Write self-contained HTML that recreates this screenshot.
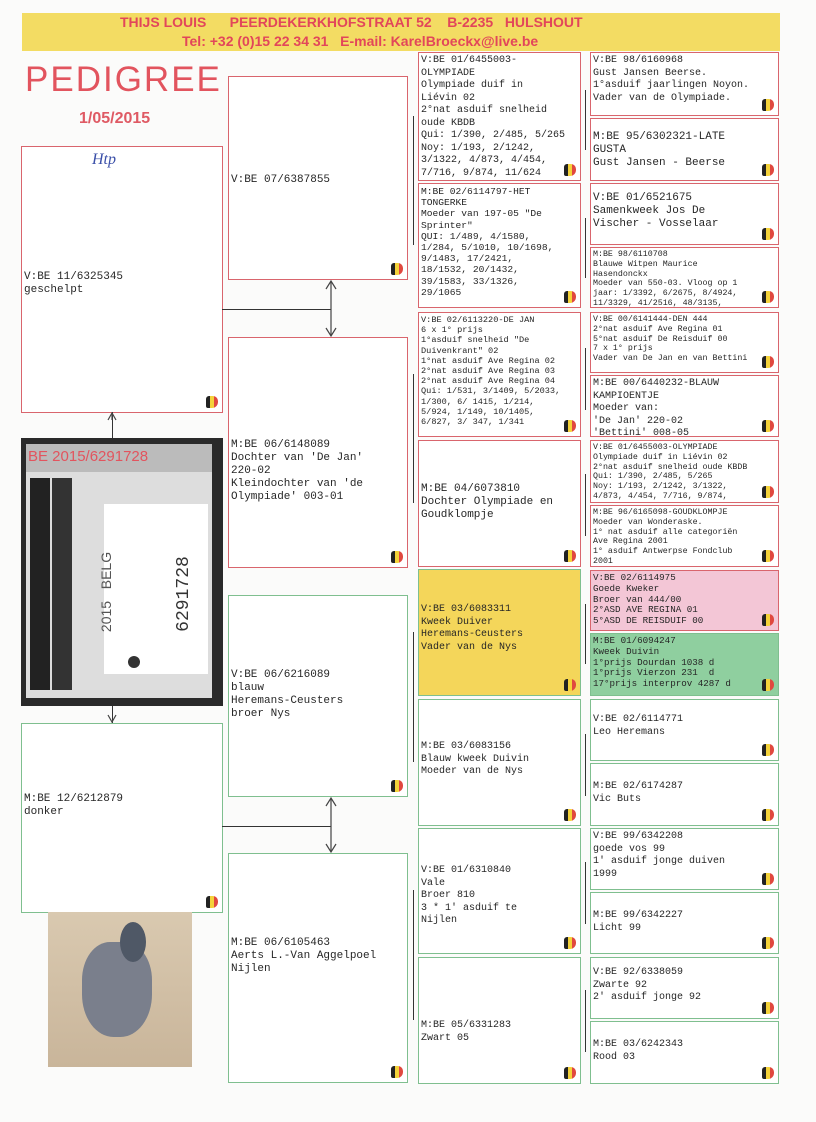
<!DOCTYPE html>
<html><head><meta charset="utf-8"><style>
body{margin:0;width:816px;height:1122px;background:#fbfbfa;position:relative;overflow:hidden;font-family:"Liberation Mono",monospace;color:#262626}
.b{position:absolute;box-sizing:border-box;border:1.5px solid #d9656d;background:#fff;padding:2px 2px;overflow:hidden}
.g{border-color:#7fbf8f}
.t{font-size:10px;line-height:12.5px;white-space:pre}
.s{font-size:8.3px;line-height:9.8px;white-space:pre}
.m{font-size:11px;line-height:13px;white-space:pre}
.f{position:absolute;right:4px;bottom:4px;width:12px;height:12px;background:linear-gradient(90deg,#222 0 33%,#f4d23a 33% 66%,#e0483f 66%);border-radius:3px 5px 6px 2px}
.l{position:absolute;background:#333}
</style></head><body>
<div style="position:absolute;left:22px;top:13px;width:758px;height:38px;background:#f3dc63"></div>
<div style="position:absolute;left:120px;top:14px;font:bold 14px 'Liberation Sans',sans-serif;color:#e2465a;white-space:pre">THIJS LOUIS      PEERDEKERKHOFSTRAAT 52    B-2235   HULSHOUT</div>
<div style="position:absolute;left:182px;top:33px;font:bold 14px 'Liberation Sans',sans-serif;color:#e2465a;white-space:pre">Tel: +32 (0)15 22 34 31   E-mail: KarelBroeckx@live.be</div>
<div style="position:absolute;left:25px;top:60px;font:35px 'Liberation Sans',sans-serif;color:#e2545e;letter-spacing:2px">PEDIGREE</div>
<div style="position:absolute;left:79px;top:110px;font:bold 16px 'Liberation Sans',sans-serif;color:#df5a64">1/05/2015</div>

<div class="b" style="left:21px;top:146px;width:202px;height:267px"><div style="position:absolute;left:70px;top:4px;color:#3a4fa8;font:italic 16px 'Liberation Serif',serif">Htp</div><div class="m" style="position:absolute;top:124px;left:2px">V:BE 11/6325345
geschelpt</div><div class="f"></div></div>
<div style="position:absolute;left:21px;top:438px;width:202px;height:268px;background:#2a2a2a"></div>
<div style="position:absolute;left:26px;top:444px;width:186px;height:254px;background:#ddd"><div style="background:#bbb;color:#e2545e;font:15px 'Liberation Sans',sans-serif;padding:4px 2px;height:20px">BE 2015/6291728</div>
<div style="position:absolute;left:4px;top:34px;width:20px;height:212px;background:#222"></div><div style="position:absolute;left:26px;top:34px;width:20px;height:212px;background:#333"></div>
<div style="position:absolute;left:78px;top:60px;width:104px;height:170px;background:#fff"></div>
<div style="position:absolute;left:120px;top:140px;transform:rotate(-90deg);font:18px 'Liberation Mono',monospace;color:#333">6291728</div>
<div style="position:absolute;left:40px;top:140px;transform:rotate(-90deg);font:14px 'Liberation Sans',sans-serif;color:#555;white-space:pre">2015   BELG</div>
<div style="position:absolute;left:102px;top:212px;width:12px;height:12px;border-radius:50%;background:#333"></div></div>
<div class="b g" style="left:21px;top:723px;width:202px;height:190px"><div class="m" style="position:absolute;top:69px;left:2px">M:BE 12/6212879
donker</div><div class="f"></div></div>
<div style="position:absolute;left:48px;top:912px;width:144px;height:155px;background:linear-gradient(#d9c9b0,#c9b59a)"><div style="position:absolute;left:34px;top:30px;width:70px;height:95px;border-radius:40% 40% 45% 45%;background:#7a7f8c"></div><div style="position:absolute;left:72px;top:10px;width:26px;height:40px;border-radius:50%;background:#4f5866"></div></div>

<div class="l" style="left:112px;top:412px;width:1px;height:26px"></div>
<div class="l" style="left:112px;top:706px;width:1px;height:17px"></div>
<div class="l" style="left:222px;top:309px;width:109px;height:1px"></div>
<div class="l" style="left:222px;top:826px;width:109px;height:1px"></div>
<svg style="position:absolute;left:0;top:0" width="816" height="1122">
<g stroke="#444" stroke-width="1.2" fill="none">
<line x1="331" y1="281" x2="331" y2="336"/><polyline points="326,289 331,281 336,289"/><polyline points="326,328 331,336 336,328"/>
<line x1="331" y1="798" x2="331" y2="852"/><polyline points="326,806 331,798 336,806"/><polyline points="326,844 331,852 336,844"/>
<polyline points="112,420 112,413"/><polyline points="108,420 112,413 116,420"/>
<polyline points="108,715 112,722 116,715"/>
</g></svg>

<div class="b" style="left:228px;top:76px;width:180px;height:204px"><div class="m" style="position:absolute;top:97px;left:2px">V:BE 07/6387855</div><div class="f"></div></div>
<div class="b" style="left:228px;top:337px;width:180px;height:231px"><div class="m" style="position:absolute;top:101px;left:2px">M:BE 06/6148089
Dochter van 'De Jan'
220-02
Kleindochter van 'de
Olympiade' 003-01</div><div class="f"></div></div>
<div class="b g" style="left:228px;top:595px;width:180px;height:202px"><div class="m" style="position:absolute;top:73px;left:2px">V:BE 06/6216089
blauw
Heremans-Ceusters
broer Nys</div><div class="f"></div></div>
<div class="b g" style="left:228px;top:853px;width:180px;height:230px"><div class="m" style="position:absolute;top:83px;left:2px">M:BE 06/6105463
Aerts L.-Van Aggelpoel
Nijlen</div><div class="f"></div></div>

<div class="l" style="left:413px;top:116px;width:1px;height:129px"></div>
<div class="l" style="left:413px;top:374px;width:1px;height:129px"></div>
<div class="l" style="left:413px;top:632px;width:1px;height:130px"></div>
<div class="l" style="left:413px;top:890px;width:1px;height:130px"></div>

<div class="b" style="left:418px;top:52px;width:163px;height:129px"><div class="t">V:BE 01/6455003-
OLYMPIADE
Olympiade duif in
Liévin 02
2°nat asduif snelheid
oude KBDB
Qui: 1/390, 2/485, 5/265
Noy: 1/193, 2/1242,
3/1322, 4/873, 4/454,
7/716, 9/874, 11/624</div><div class="f"></div></div>
<div class="b" style="left:418px;top:183px;width:163px;height:125px"><div class="t" style="font-size:9.6px;line-height:11.2px">M:BE 02/6114797-HET
TONGERKE
Moeder van 197-05 "De
Sprinter"
QUI: 1/489, 4/1580,
1/284, 5/1010, 10/1698,
9/1483, 17/2421,
18/1532, 20/1432,
39/1583, 33/1326,
29/1065</div><div class="f"></div></div>
<div class="b" style="left:418px;top:312px;width:163px;height:125px"><div class="s" style="font-size:8.6px;line-height:10.2px">V:BE 02/6113220-DE JAN
6 x 1° prijs
1°asduif snelheid "De
Duivenkrant" 02
1°nat asduif Ave Regina 02
2°nat asduif Ave Regina 03
2°nat asduif Ave Regina 04
Qui: 1/531, 3/1409, 5/2033,
1/300, 6/ 1415, 1/214,
5/924, 1/149, 10/1405,
6/827, 3/ 347, 1/341</div><div class="f"></div></div>
<div class="b" style="left:418px;top:440px;width:163px;height:127px"><div class="m" style="position:absolute;top:42px;left:2px">M:BE 04/6073810
Dochter Olympiade en
Goudklompje</div><div class="f"></div></div>
<div class="b g" style="left:418px;top:569px;width:163px;height:127px;background:#f4d65a"><div class="t" style="position:absolute;top:34px;left:2px">V:BE 03/6083311
Kweek Duiver
Heremans-Ceusters
Vader van de Nys</div><div class="f"></div></div>
<div class="b g" style="left:418px;top:699px;width:163px;height:127px"><div class="t" style="position:absolute;top:41px;left:2px">M:BE 03/6083156
Blauw kweek Duivin
Moeder van de Nys</div><div class="f"></div></div>
<div class="b g" style="left:418px;top:828px;width:163px;height:126px"><div class="t" style="position:absolute;top:36px;left:2px">V:BE 01/6310840
Vale
Broer 810
3 * 1' asduif te
Nijlen</div><div class="f"></div></div>
<div class="b g" style="left:418px;top:957px;width:163px;height:127px"><div class="t" style="position:absolute;top:62px;left:2px">M:BE 05/6331283
Zwart 05</div><div class="f"></div></div>

<div class="l" style="left:585px;top:90px;width:1px;height:60px"></div>
<div class="l" style="left:585px;top:218px;width:1px;height:60px"></div>
<div class="l" style="left:585px;top:348px;width:1px;height:62px"></div>
<div class="l" style="left:585px;top:474px;width:1px;height:62px"></div>
<div class="l" style="left:585px;top:604px;width:1px;height:60px"></div>
<div class="l" style="left:585px;top:734px;width:1px;height:62px"></div>
<div class="l" style="left:585px;top:862px;width:1px;height:62px"></div>
<div class="l" style="left:585px;top:990px;width:1px;height:62px"></div>

<div class="b" style="left:590px;top:52px;width:189px;height:64px"><div class="t">V:BE 98/6160968
Gust Jansen Beerse.
1°asduif jaarlingen Noyon.
Vader van de Olympiade.</div><div class="f"></div></div>
<div class="b" style="left:590px;top:118px;width:189px;height:63px"><div class="m" style="position:absolute;top:12px;left:2px">M:BE 95/6302321-LATE
GUSTA
Gust Jansen - Beerse</div><div class="f"></div></div>
<div class="b" style="left:590px;top:183px;width:189px;height:62px"><div class="m" style="position:absolute;top:8px;left:2px">V:BE 01/6521675
Samenkweek Jos De
Vischer - Vosselaar</div><div class="f"></div></div>
<div class="b" style="left:590px;top:247px;width:189px;height:61px"><div class="s">M:BE 98/6110708
Blauwe Witpen Maurice
Hasendonckx
Moeder van 550-03. Vloog op 1
jaar: 1/3392, 6/2675, 8/4924,
11/3329, 41/2516, 48/3135,</div><div class="f"></div></div>
<div class="b" style="left:590px;top:312px;width:189px;height:61px"><div class="s">V:BE 00/6141444-DEN 444
2°nat asduif Ave Regina 01
5°nat asduif De Reisduif 00
7 x 1° prijs
Vader van De Jan en van Bettini</div><div class="f"></div></div>
<div class="b" style="left:590px;top:375px;width:189px;height:62px"><div class="t">M:BE 00/6440232-BLAUW
KAMPIOENTJE
Moeder van:
'De Jan' 220-02
'Bettini' 008-05</div><div class="f"></div></div>
<div class="b" style="left:590px;top:440px;width:189px;height:63px"><div class="s">V:BE 01/6455003-OLYMPIADE
Olympiade duif in Liévin 02
2°nat asduif snelheid oude KBDB
Qui: 1/390, 2/485, 5/265
Noy: 1/193, 2/1242, 3/1322,
4/873, 4/454, 7/716, 9/874,</div><div class="f"></div></div>
<div class="b" style="left:590px;top:505px;width:189px;height:62px"><div class="s">M:BE 96/6165098-GOUDKLOMPJE
Moeder van Wonderaske.
1° nat asduif alle categoriën
Ave Regina 2001
1° asduif Antwerpse Fondclub
2001</div><div class="f"></div></div>
<div class="b" style="left:590px;top:570px;width:189px;height:61px;background:#f3c6d6"><div class="s" style="font-size:9.2px;line-height:10.8px">V:BE 02/6114975
Goede Kweker
Broer van 444/00
2°ASD AVE REGINA 01
5°ASD DE REISDUIF 00</div><div class="f"></div></div>
<div class="b g" style="left:590px;top:633px;width:189px;height:63px;background:#8fcf9f"><div class="s" style="font-size:9.2px;line-height:10.8px">M:BE 01/6094247
Kweek Duivin
1°prijs Dourdan 1038 d
1°prijs Vierzon 231  d
17°prijs interprov 4287 d</div><div class="f"></div></div>
<div class="b g" style="left:590px;top:699px;width:189px;height:62px"><div class="t" style="position:absolute;top:14px;left:2px">V:BE 02/6114771
Leo Heremans</div><div class="f"></div></div>
<div class="b g" style="left:590px;top:763px;width:189px;height:63px"><div class="t" style="position:absolute;top:17px;left:2px">M:BE 02/6174287
Vic Buts</div><div class="f"></div></div>
<div class="b g" style="left:590px;top:828px;width:189px;height:62px"><div class="t">V:BE 99/6342208
goede vos 99
1' asduif jonge duiven
1999</div><div class="f"></div></div>
<div class="b g" style="left:590px;top:892px;width:189px;height:62px"><div class="t" style="position:absolute;top:17px;left:2px">M:BE 99/6342227
Licht 99</div><div class="f"></div></div>
<div class="b g" style="left:590px;top:957px;width:189px;height:62px"><div class="t" style="position:absolute;top:9px;left:2px">V:BE 92/6338059
Zwarte 92
2' asduif jonge 92</div><div class="f"></div></div>
<div class="b g" style="left:590px;top:1021px;width:189px;height:63px"><div class="t" style="position:absolute;top:17px;left:2px">M:BE 03/6242343
Rood 03</div><div class="f"></div></div>
</body></html>
